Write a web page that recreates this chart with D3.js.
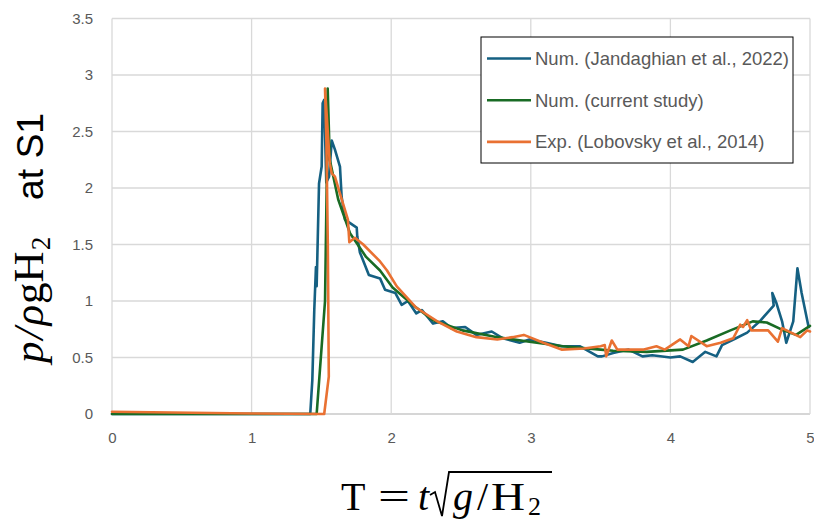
<!DOCTYPE html>
<html><head><meta charset="utf-8">
<script src="https://cdn.jsdelivr.net/npm/d3@7"></script>
<style>body{margin:0;background:#fff}svg{display:block}</style>
</head><body>
<svg id="chart" width="814" height="521"></svg>
<script>
// ---- data ----
const seriesNames = ["Num. (Jandaghian et al., 2022)", "Num. (current study)", "Exp. (Lobovsky et al., 2014)"];
const seriesColors = ["#156082", "#196B24", "#E97132"];

const blueT = [0, 1.0, 1.42, 1.435, 1.449, 1.461, 1.466, 1.483, 1.502, 1.509, 1.52, 1.535, 1.555, 1.574, 1.597, 1.633, 1.645, 1.669, 1.753, 1.757, 1.776, 1.84, 1.92, 1.956, 2.03, 2.075, 2.12, 2.18, 2.22, 2.30, 2.37, 2.43, 2.53, 2.61, 2.72, 2.80, 2.92, 2.99, 3.11, 3.22, 3.35, 3.48, 3.51, 3.59, 3.70, 3.80, 3.87, 4.0, 4.07, 4.16, 4.25, 4.33, 4.37, 4.47, 4.55, 4.64, 4.74, 4.73, 4.76, 4.80, 4.83, 4.88, 4.91, 4.94, 4.99];
const blueP = [0, 0, 0, 0.3, 0.92, 1.3, 1.13, 2.04, 2.19, 2.75, 2.78, 2.05, 2.1, 2.42, 2.34, 2.19, 1.92, 1.72, 1.65, 1.57, 1.43, 1.23, 1.2, 1.1, 1.07, 0.965, 1.0, 0.89, 0.92, 0.80, 0.82, 0.76, 0.77, 0.70, 0.73, 0.67, 0.63, 0.66, 0.63, 0.60, 0.60, 0.51, 0.51, 0.54, 0.57, 0.51, 0.52, 0.50, 0.51, 0.46, 0.55, 0.51, 0.61, 0.67, 0.72, 0.82, 0.96, 1.07, 0.98, 0.82, 0.63, 0.82, 1.29, 1.07, 0.77];

const greenT = [0, 1.466, 1.49, 1.526, 1.54, 1.545, 1.56, 1.62, 1.705, 1.82, 1.92, 2.01, 2.16, 2.30, 2.51, 2.76, 2.99, 3.23, 3.50, 3.59, 3.83, 4.09, 4.26, 4.43, 4.59, 4.69, 4.81, 4.90, 5.0];
const greenP = [0, 0, 0.4, 1.0, 2.2, 2.88, 2.25, 1.9, 1.6, 1.39, 1.27, 1.12, 0.96, 0.83, 0.74, 0.68, 0.64, 0.60, 0.57, 0.56, 0.55, 0.57, 0.65, 0.74, 0.82, 0.81, 0.74, 0.70, 0.78];

const orangeT = [0, 1.0, 1.52, 1.553, 1.546, 1.536, 1.526, 1.56, 1.574, 1.597, 1.633, 1.69, 1.70, 1.74, 1.80, 1.92, 1.97, 2.04, 2.18, 2.33, 2.47, 2.61, 2.76, 2.87, 2.95, 3.09, 3.22, 3.38, 3.50, 3.53, 3.54, 3.58, 3.62, 3.81, 3.90, 3.96, 4.07, 4.13, 4.15, 4.26, 4.36, 4.45, 4.50, 4.52, 4.55, 4.58, 4.70, 4.77, 4.80, 4.93, 4.98, 5.0];
const orangeP = [0.02, 0.005, 0, 0.33, 1.5, 2.4, 2.88, 2.22, 2.13, 2.1, 1.95, 1.72, 1.52, 1.56, 1.5, 1.35, 1.27, 1.13, 0.94, 0.82, 0.73, 0.68, 0.66, 0.68, 0.70, 0.63, 0.57, 0.58, 0.60, 0.61, 0.51, 0.65, 0.57, 0.57, 0.60, 0.57, 0.66, 0.60, 0.69, 0.60, 0.63, 0.67, 0.79, 0.77, 0.83, 0.74, 0.74, 0.64, 0.76, 0.68, 0.74, 0.73];

const xTicks = [0, 1, 2, 3, 4, 5];
const yTicks = [0, 0.5, 1, 1.5, 2, 2.5, 3, 3.5];

// ---- layout ----
const svg = d3.select("#chart");
const L = 112, R = 810, T = 18.5, B = 414;
const x = d3.scaleLinear().domain([0, 5]).range([L, R]);
const y = d3.scaleLinear().domain([0, 3.5]).range([B, T]);
const tickColor = "#595959";
const sans = "'Liberation Sans', Arial, sans-serif";
const serif = "'Liberation Serif', 'DejaVu Serif', serif";

// gridlines
svg.append("g").selectAll("line").data(yTicks).join("line")
  .attr("x1", L).attr("x2", R).attr("y1", d => y(d)).attr("y2", d => y(d))
  .attr("stroke", d => d === 0 ? "#c8c8c8" : "#d9d9d9").attr("stroke-width", 1.3);
svg.append("g").selectAll("line").data(xTicks).join("line")
  .attr("x1", d => x(d)).attr("x2", d => x(d)).attr("y1", T).attr("y2", B)
  .attr("stroke", "#d9d9d9").attr("stroke-width", 1.3);

// axes (labels only)
const xAxis = d3.axisBottom(x).tickValues(xTicks).tickSize(0).tickPadding(18).tickFormat(d3.format("d"));
const gx = svg.append("g").attr("transform", `translate(0,${B})`).call(xAxis);
gx.select(".domain").remove();
gx.selectAll("text").attr("fill", tickColor).style("font-family", sans).style("font-size", "15px");

const yAxis = d3.axisLeft(y).tickValues(yTicks).tickSize(0).tickPadding(19).tickFormat(d => String(d));
const gy = svg.append("g").attr("transform", `translate(${L},0)`).call(yAxis);
gy.select(".domain").remove();
gy.selectAll("text").attr("fill", tickColor).style("font-family", sans).style("font-size", "15px");

// series
const line = d3.line().x(d => x(d[0])).y(d => y(d[1]));
const series = [d3.zip(blueT, blueP), d3.zip(greenT, greenP), d3.zip(orangeT, orangeP)];
series.forEach((s, i) => {
  svg.append("path").datum(s).attr("d", line)
    .attr("fill", "none").attr("stroke", seriesColors[i]).attr("stroke-width", 2.6)
    .attr("stroke-linejoin", "round").attr("stroke-linecap", "round");
});

// legend
const lg = svg.append("g");
lg.append("rect").attr("x", 481).attr("y", 37).attr("width", 312).attr("height", 126)
  .attr("fill", "#fff").attr("stroke", "#000").attr("stroke-width", 1);
seriesNames.forEach((n, i) => {
  const yy = 58.5 + i * 41.7;
  lg.append("line").attr("x1", 487).attr("x2", 531).attr("y1", yy).attr("y2", yy)
    .attr("stroke", seriesColors[i]).attr("stroke-width", 2.6);
  lg.append("text").attr("x", 535).attr("y", yy).attr("dy", "0.35em")
    .attr("fill", tickColor).style("font-family", sans).style("font-size", "18.5px").text(n);
});

// y title (rotated group: u = -screenY, baseline at screenX = 43)
const yg = svg.append("g").attr("transform", "translate(43,0) rotate(-90)");
const ym = yg.append("text").attr("x", -363).attr("y", 0)
  .attr("fill", "#000").style("font-family", serif).style("font-size", "43px");
ym.append("tspan").style("font-style", "italic").text("p");
ym.append("tspan").attr("dx", 2).style("font-style", "italic").text("/");
ym.append("tspan").attr("dx", 2).style("font-style", "italic").text("ρ");
ym.append("tspan").attr("dx", 1).text("gH");
ym.append("tspan").style("font-size", "27px").attr("dx", 1).attr("dy", 7).text("2");
yg.append("text").attr("x", -200).attr("y", 0)
  .attr("textLength", 87).attr("lengthAdjust", "spacingAndGlyphs")
  .attr("fill", "#000").style("font-family", sans).style("font-size", "36px").text("at S1");

// x title pieces
const xb = 510;
const xg = svg.append("g").attr("fill", "#000").style("font-family", serif).style("font-size", "40px");
xg.append("text").attr("x", 341).attr("y", xb).text("T");
xg.append("text").attr("x", 378).attr("y", xb).attr("textLength", 32).attr("lengthAdjust", "spacingAndGlyphs").text("=");
xg.append("text").attr("x", 418).attr("y", xb).style("font-style", "italic").text("t");
xg.append("text").attr("x", 453).attr("y", xb).style("font-style", "italic").text("g");
xg.append("text").attr("x", 477).attr("y", xb).text("/");
xg.append("text").attr("x", 491).attr("y", xb).attr("textLength", 34).attr("lengthAdjust", "spacingAndGlyphs").text("H");
xg.append("text").attr("x", 528).attr("y", xb + 5).style("font-size", "26px").text("2");
svg.append("path")
  .attr("d", "M430,495 L435,492 L442,516 L449,472 L552,472")
  .attr("fill", "none").attr("stroke", "#000").attr("stroke-width", 1.8).attr("stroke-linejoin", "miter");
</script>
</body></html>
